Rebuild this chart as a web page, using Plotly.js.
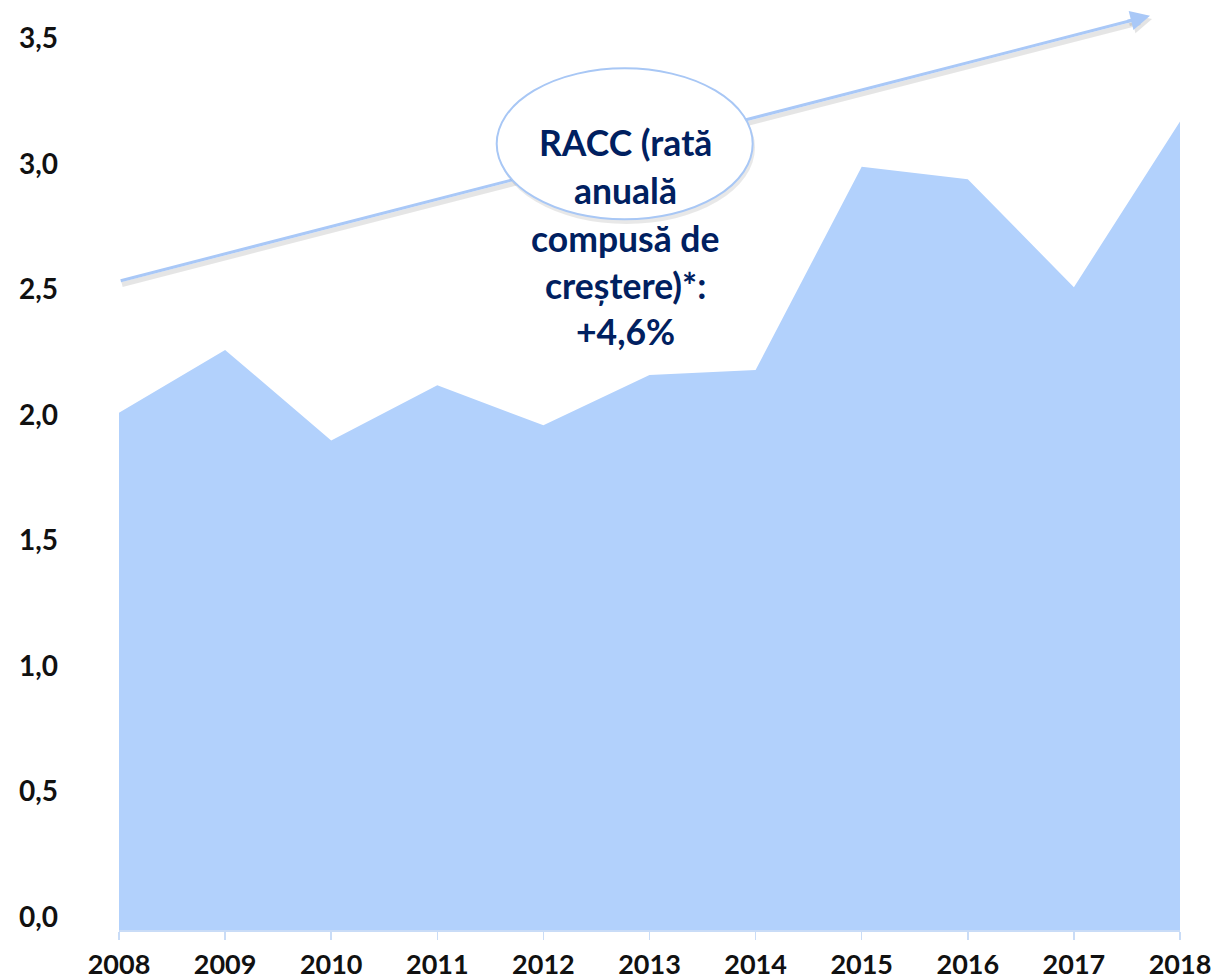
<!DOCTYPE html>
<html>
<head>
<meta charset="utf-8">
<script src="https://cdn.plot.ly/plotly-3.0.1.min.js"></script>
<style>html,body{margin:0;padding:0;background:#fff;}#chart{width:1216px;height:978px;}</style>
</head>
<body>
<div id="chart"></div>
<script>
// ---- data ----
const years = [2008, 2009, 2010, 2011, 2012, 2013, 2014, 2015, 2016, 2017, 2018];
const values = [2.06, 2.31, 1.95, 2.17, 2.01, 2.21, 2.23, 3.04, 2.99, 2.56, 3.22];
const yearLabels = ["2008", "2009", "2010", "2011", "2012", "2013", "2014", "2015", "2016", "2017", "2018"];
const yTickVals = [0, 0.5, 1, 1.5, 2, 2.5, 3, 3.5];
const yTickLabels = ["0,0", "0,5", "1,0", "1,5", "2,0", "2,5", "3,0", "3,5"];
const calloutLines = ["RACC (rată", "anuală", "compusă de", "creștere)*:", "+4,6%"];

// ---- layout geometry ----
const W = 1216, H = 978;
const M = {l: 119, r: 36, t: 1, b: 48, pad: 0};
const yMax = 3.7;
const plotW = W - M.l - M.r, plotH = H - M.t - M.b;
const px2x = px => years[0] + (px - M.l) / plotW * (years[years.length - 1] - years[0]);
const px2y = py => (H - M.b - py) / plotH * yMax;

const fontFam = 'Lato, "Open Sans", sans-serif';
const navy = '#002060';
const lineBlue = '#a9c8f7';

const shapes = [
  // arrow shadow
  {type: 'line', xref: 'x', yref: 'y', x0: px2x(122), y0: px2y(284.5), x1: px2x(1140), y1: px2y(22.5),
   line: {color: 'rgba(0,0,0,0.10)', width: 5}},
  // arrow line
  {type: 'line', xref: 'x', yref: 'y', x0: px2x(120.7), y0: px2y(280.7), x1: px2x(1140), y1: px2y(18.3),
   line: {color: lineBlue, width: 3}},
  // ellipse shadow
  {type: 'circle', xref: 'x', yref: 'y', x0: px2x(498), x1: px2x(755), y0: px2y(224), y1: px2y(71),
   fillcolor: 'rgba(0,0,0,0.09)', line: {width: 0}},
  // ellipse
  {type: 'circle', xref: 'x', yref: 'y', x0: px2x(496.7), x1: px2x(752.7), y0: px2y(219.3), y1: px2y(68.3),
   fillcolor: '#ffffff', line: {color: '#a8c7f5', width: 2}}
];

const lineCenters = [142, 190, 238, 285, 331];
const annotations = [
  {x: px2x(1152), y: px2y(19), xref: 'x', yref: 'y', text: '', showarrow: true, axref: 'pixel', ayref: 'pixel',
   ax: -24, ay: 6, arrowhead: 2, arrowsize: 1.3, arrowwidth: 3, arrowcolor: 'rgba(0,0,0,0.10)'},
  {x: px2x(1150), y: px2y(15.7), xref: 'x', yref: 'y', text: '', showarrow: true, axref: 'pixel', ayref: 'pixel',
   ax: -24, ay: 6, arrowhead: 2, arrowsize: 1.3, arrowwidth: 3, arrowcolor: lineBlue}
];
calloutLines.forEach((t, i) => {
  annotations.push({x: px2x(625), y: px2y(lineCenters[i]), xref: 'x', yref: 'y', text: t, showarrow: false,
    xanchor: 'center', yanchor: 'middle',
    font: {family: fontFam, size: 35.5, color: navy, weight: 700}});
});

const trace = {
  x: years, y: values, type: 'scatter', mode: 'lines', fill: 'tozeroy',
  fillcolor: '#b2d1fc', line: {width: 0, color: '#b2d1fc'}, hoverinfo: 'skip'
};

const layout = {
  width: W, height: H, margin: M, showlegend: false,
  paper_bgcolor: '#ffffff', plot_bgcolor: '#ffffff',
  font: {family: fontFam, color: '#111111'},
  xaxis: {
    range: [years[0], years[years.length - 1]], tickvals: years, ticktext: yearLabels,
    showgrid: false, zeroline: false, showline: true, linecolor: '#c9dcf7', linewidth: 1.5,
    ticks: 'outside', ticklen: 8, tickwidth: 1.5, tickcolor: '#c9dcf7',
    tickfont: {family: fontFam, size: 27, color: '#111111', weight: 700}, ticklabelstandoff: 2
  },
  yaxis: {
    range: [0, yMax], tickvals: yTickVals, ticktext: yTickLabels,
    showgrid: false, zeroline: false, showline: false, ticks: '',
    tickfont: {family: fontFam, size: 28, color: '#111111', weight: 700},
    ticklabelstandoff: 60, ticklabelshift: -13
  },
  shapes: shapes,
  annotations: annotations
};

Plotly.newPlot('chart', [trace], layout, {staticPlot: true, displayModeBar: false});
</script>
</body>
</html>
